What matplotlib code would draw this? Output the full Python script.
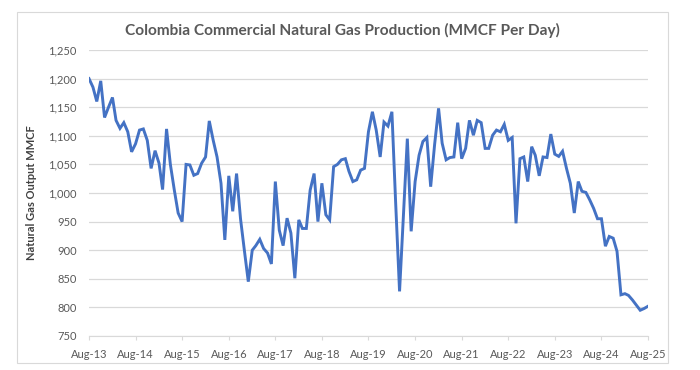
import matplotlib
matplotlib.use("Agg")
import matplotlib.pyplot as plt
import matplotlib.dates as mdates
import pandas as pd
from matplotlib.patches import Rectangle

# monthly production, Aug-2013 .. Aug-2025 (MMCF per day)
prod_2013_2015 = [1200, 1185, 1160, 1196, 1132, 1150, 1167, 1127, 1113, 1123, 1107, 1072,
                  1086, 1110, 1112, 1092, 1043, 1074, 1052, 1006, 1112, 1050, 1005, 965, 950]
prod_2015_2017 = [1050, 1049, 1031, 1034, 1052, 1063, 1126, 1092, 1063, 1017, 918, 1030,
                  968, 1034, 955, 900, 845, 900, 908, 919, 903, 895, 876]
prod_2017_2019 = [1020, 935, 908, 956, 930, 851, 953, 938, 938, 1005, 1034, 950,
                  1017, 962, 953, 1046, 1050, 1058, 1060, 1038, 1020, 1023, 1040, 1043, 1107]
prod_2019_2023 = [1142, 1110, 1063, 1124, 1117, 1142, 985, 828, 960, 1095, 933, 1020,
                  1066, 1090, 1097, 1011, 1085, 1148, 1087, 1058, 1062, 1063, 1123, 1060,
                  1078, 1127, 1101, 1127, 1123, 1078, 1078, 1101, 1110, 1107, 1120, 1092,
                  1097, 947, 1060, 1063, 1020, 1081, 1066, 1030, 1063, 1062]
prod_2023_2025 = [1103, 1068, 1064, 1073, 1043, 1017, 965, 1020, 1003, 1001, 988, 973,
                  955, 955, 907, 924, 921, 898, 822, 824, 821, 813, 804, 795, 798, 802]

production = prod_2013_2015 + prod_2015_2017 + prod_2017_2019 + prod_2019_2023 + prod_2023_2025
months = pd.date_range("2013-08-01", periods=len(production), freq="MS")

y_ticks = list(range(750, 1251, 50))
tick_years = pd.date_range("2013-08-01", "2025-08-01", freq="12MS")

title = "Colombia Commercial Natural Gas Production (MMCF Per Day)"
y_label = "Natural Gas Output MMCF"

grey_text = "#595959"
plt.rcParams['font.family'] = ['Lato', 'DejaVu Sans']

fig = plt.figure(figsize=(7, 3.7), dpi=100)
fig.patch.set_facecolor("white")
fig.patches.append(Rectangle((17 / 700, 1 - 363 / 370), (668 - 17) / 700, (363 - 12) / 370,
                             transform=fig.transFigure, fill=False, edgecolor="#d9d9d9", lw=0.8))

ax = fig.add_axes([89 / 700, 1 - 336 / 370, (648 - 89) / 700, (336 - 50) / 370])
ax.plot(months, production, color="#4472C4", lw=2.1, solid_joinstyle="miter")

ax.set_xlim(months[0], months[-1])
ax.set_ylim(750, 1250)
ax.set_yticks(y_ticks)
ax.set_yticklabels([f"{v:,}" for v in y_ticks])
ax.set_xticks(tick_years)
ax.xaxis.set_major_formatter(mdates.DateFormatter("%b-%y"))

ax.grid(axis="y", color="#d9d9d9", lw=0.9)
ax.set_axisbelow(True)
for side in ["top", "right", "left"]:
    ax.spines[side].set_visible(False)
ax.spines["bottom"].set_color("#d9d9d9")
ax.tick_params(axis="y", length=0, pad=9, labelsize=8, labelcolor=grey_text)
ax.tick_params(axis="x", length=3, color="#d9d9d9", pad=6, labelsize=8, labelcolor=grey_text)

fig.text(342 / 700, 1 - 30 / 370, title, ha="center", va="center",
         fontsize=11.1, fontweight="bold", color=grey_text)
fig.text(32 / 700, 1 - 193 / 370, y_label, ha="center", va="center", rotation=90,
         fontsize=8, fontweight="bold", color="#404040")

fig.savefig("out.png", dpi=100)
